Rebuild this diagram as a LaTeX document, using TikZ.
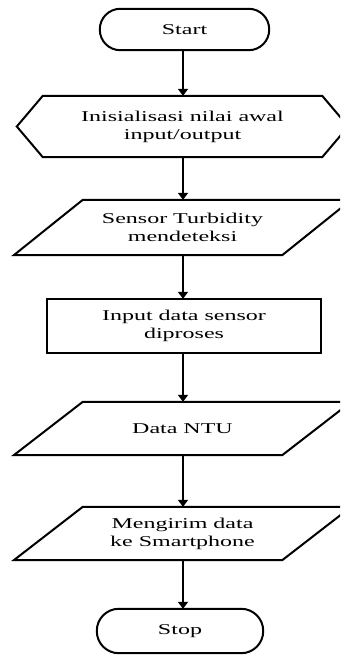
\documentclass[tikz,border=0pt]{standalone}
\usepackage{fontspec}
\setmainfont{Liberation Serif}[FakeStretch=1.6]
\usetikzlibrary{arrows.meta,calc}
\tikzset{
  box/.style={draw=none, inner sep=0pt, align=center, font=\fontsize{15}{18}\selectfont},
  outline/.style={line width=2pt, line join=miter},
  arr/.style={line width=2.8pt, -{Triangle[length=7pt,width=10pt]}},
}
\newcommand{\drawpara}[1]{%
  \draw[outline] ($(#1.north west)+(34.5pt,0)$) -- ($(#1.north east)+(34.5pt,0)$)
    -- ($(#1.south east)+(-34.5pt,0)$) -- ($(#1.south west)+(-34.5pt,0)$) -- cycle;}
\begin{document}
\begin{tikzpicture}[x=1pt,y=1pt]
  \useasboundingbox (0,0) rectangle (340,-655);
  \clip (0,0) rectangle (340,-655);
  \fill[white] (0,0) rectangle (340,-655);
  \coordinate (colx) at (183,0);

  \node[box, minimum width=169pt, minimum height=41pt] (start) at (184.5,-29.5) {Start};
  \draw[outline, rounded corners=20.5pt] (start.north west) rectangle (start.south east);

  \node[box, minimum width=279pt, minimum height=61pt] (init) at (182.5,-126.5) {Inisialisasi nilai awal\\input/output};
  \draw[outline] (init.north west) -- (init.north east) -- ($(init.east)+(26pt,0)$)
    -- (init.south east) -- (init.south west) -- ($(init.west)+(-26pt,0)$) -- cycle;

  \node[box, minimum width=268pt, minimum height=55pt] (sensor) at (182.5,-227.5) {Sensor Turbidity\\mendeteksi};
  \drawpara{sensor}

  \node[box, minimum width=274pt, minimum height=54pt] (proc) at (184,-326) {Input data sensor\\diproses};
  \draw[outline] (proc.north west) rectangle (proc.south east);

  \node[box, minimum width=268pt, minimum height=53pt] (ntu) at (182.5,-428.5) {Data NTU};
  \drawpara{ntu}

  \node[box, minimum width=268pt, minimum height=53pt] (kirim) at (182.5,-533.5) {Mengirim data\\ke Smartphone};
  \drawpara{kirim}

  \node[box, minimum width=166pt, minimum height=44pt] (stop) at (180,-631) {Stop};
  \draw[outline, rounded corners=22pt] (stop.north west) rectangle (stop.south east);

  \draw[arr] (start.south -| colx) -- (init.north -| colx);
  \draw[arr] (init.south -| colx) -- (sensor.north -| colx);
  \draw[arr] (sensor.south -| colx) -- (proc.north -| colx);
  \draw[arr] (proc.south -| colx) -- (ntu.north -| colx);
  \draw[arr] (ntu.south -| colx) -- (kirim.north -| colx);
  \draw[arr] (kirim.south -| colx) -- (stop.north -| colx);
\end{tikzpicture}
\end{document}
